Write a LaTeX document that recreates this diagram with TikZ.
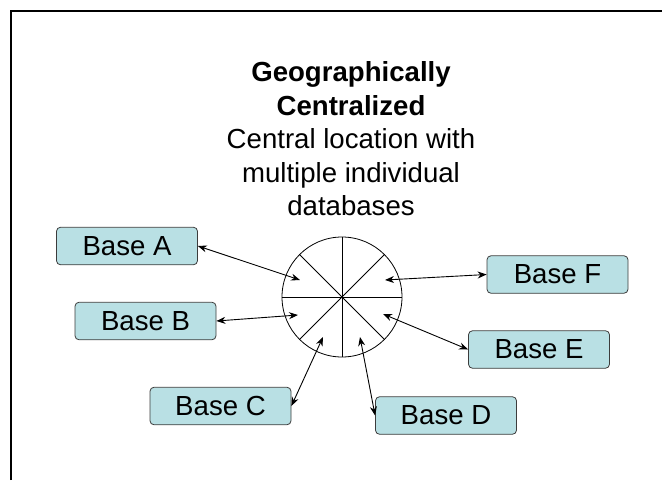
\documentclass[tikz,border=0pt]{standalone}
\usepackage{fontspec}
\setmainfont{Liberation Sans}
\usetikzlibrary{arrows.meta}
\definecolor{dbfill}{RGB}{185,224,228}
\definecolor{dbline}{RGB}{60,60,60}
\newcommand\bigtext{\fontsize{27.6}{33.5}\selectfont}

\begin{document}
\begin{tikzpicture}[x=1pt, y=-1pt,
  dbbox/.style={draw=dbline, fill=dbfill, rounded corners=4pt, line width=0.8pt,
    minimum width=141pt, minimum height=37.5pt, inner sep=0pt, font=\bigtext},
  link/.style={{Stealth[length=9pt,width=7pt]}-{Stealth[length=9pt,width=7pt]}, line width=0.9pt}]
\useasboundingbox (0,0) rectangle (662,480);
\draw[line width=2pt] (11,480) -- (11,11) -- (662,11);
\node[align=center, inner sep=0pt, font=\bigtext] (title) at (351,139)
  {\textbf{Geographically}\\ \textbf{Centralized}\\ Central location with\\ multiple individual\\ databases};
\node[draw, circle, minimum size=120pt, inner sep=0pt, line width=0.8pt] (hub) at (342,297) {};
\draw[line width=0.8pt] (hub.north) -- (hub.south);
\draw[line width=0.8pt] (hub.west) -- (hub.east);
\draw[line width=0.8pt] (hub.45) -- (hub.225);
\draw[line width=0.8pt] (hub.135) -- (hub.315);
\node[dbbox] (a) at (127,246) {Base A};
\node[dbbox] (b) at (145.5,321) {Base B};
\node[dbbox] (c) at (220.5,406) {Base C};
\node[dbbox] (d) at (446,415.5) {Base D};
\node[dbbox] (e) at (539,349.5) {Base E};
\node[dbbox] (f) at (557.5,274.5) {Base F};
\coordinate (pa) at (300,280);
\coordinate (pb) at (298,315);
\coordinate (pc) at (323,337);
\coordinate (pd) at (360,337);
\coordinate (pe) at (383,314);
\coordinate (pf) at (385,280);
\draw[link] (a.east) -- (pa);
\draw[link] (b.east) -- (pb);
\draw[link] (c.east) -- (pc);
\draw[link] (d.west) -- (pd);
\draw[link] (e.west) -- (pe);
\draw[link] (f.west) -- (pf);
\end{tikzpicture}
\end{document}
